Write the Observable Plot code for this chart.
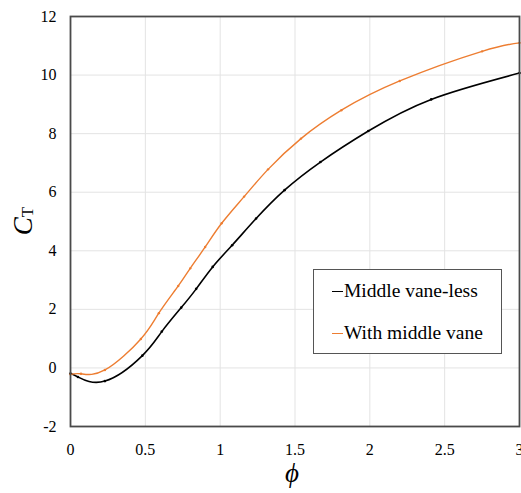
<!DOCTYPE html>
<html>
<head>
<meta charset="utf-8">
<script src="https://cdn.jsdelivr.net/npm/d3@7"></script>
<script src="https://cdn.jsdelivr.net/npm/@observablehq/plot@0.6"></script>
<style>
  html, body { margin: 0; padding: 0; background: #fff; }
  #wrap { position: relative; width: 521px; height: 493px; font-family: "Liberation Serif", "Times New Roman", serif; }
  #chart svg, #chart svg text { font-family: "Liberation Serif", "Times New Roman", serif !important; }
  #legend { position: absolute; left: 313px; top: 269px; width: 189px; height: 85px; border: 1px solid #555; background: #fff; box-sizing: border-box; font-size: 19.5px; color: #000; }
  .li { position: absolute; left: 18px; white-space: nowrap; line-height: 1; }
  .li span.sw { display: inline-block; width: 11px; height: 0; border-top: 1.5px solid; vertical-align: middle; margin-right: 1px; position: relative; top: -1px; }
</style>
</head>
<body>
<div id="wrap">
  <div id="chart"></div>
  <div id="legend">
    <div class="li" style="top:11px"><span class="sw" style="border-color:#000"></span>Middle vane-less</div>
    <div class="li" style="top:53px"><span class="sw" style="border-color:#ED7D31"></span>With middle vane</div>
  </div>
</div>
<script>
const blackX = [0, 0.05, 0.23, 0.48, 0.61, 0.74, 0.84, 0.95, 1.08, 1.24, 1.43, 1.67, 1.99, 2.41, 3.0];
const blackY = [-0.19, -0.31, -0.45, 0.42, 1.24, 2.06, 2.7, 3.45, 4.19, 5.1, 6.07, 7.03, 8.09, 9.17, 10.07];
const orangeX = [0, 0.07, 0.23, 0.47, 0.59, 0.72, 0.80, 0.90, 1.01, 1.16, 1.32, 1.54, 1.81, 2.2, 2.75, 3.0];
const orangeY = [-0.22, -0.2, -0.07, 0.99, 1.87, 2.8, 3.4, 4.13, 4.94, 5.85, 6.78, 7.83, 8.8, 9.8, 10.81, 11.1];
const xTicks = [0, 0.5, 1, 1.5, 2, 2.5, 3];
const yTicks = [-2, 0, 2, 4, 6, 8, 10, 12];
const seriesNames = ["Middle vane-less", "With middle vane"];
const seriesColors = ["#000000", "#ED7D31"];

const black = blackX.map((x, i) => ({x, y: blackY[i]}));
const orange = orangeX.map((x, i) => ({x, y: orangeY[i]}));
const fmt = d => String(d);
const SERIF = "'Liberation Serif', 'Times New Roman', serif";

const chart = Plot.plot({
  width: 521,
  height: 493,
  marginLeft: 70,
  marginRight: 2,
  marginTop: 16,
  marginBottom: 67,
  style: {fontFamily: SERIF, fontSize: "16px", color: "#000", background: "#fff"},
  x: {domain: [0, 3], label: null},
  y: {domain: [-2, 12], label: null},
  marks: [
    Plot.gridX(xTicks, {stroke: "#e3e3e3", strokeOpacity: 1}),
    Plot.gridY(yTicks, {stroke: "#e3e3e3", strokeOpacity: 1}),
    Plot.axisX({ticks: xTicks, tickSize: 0, tickPadding: 17, fontSize: 16, tickFormat: fmt, label: null}),
    Plot.axisY({ticks: yTicks, tickSize: 0, tickPadding: 14, fontSize: 16, tickFormat: fmt, label: null}),
    Plot.line(black, {x: "x", y: "y", stroke: seriesColors[0], strokeWidth: 1.6, curve: "natural"}),
    Plot.line(orange, {x: "x", y: "y", stroke: seriesColors[1], strokeWidth: 1.4, curve: "natural"}),
    Plot.dot(black, {x: "x", y: "y", r: 1.3, fill: seriesColors[0], stroke: null}),
    Plot.dot(orange, {x: "x", y: "y", r: 1.2, fill: seriesColors[1], stroke: null}),
    Plot.frame({stroke: "#4a4a4a", strokeWidth: 1.8})
  ]
});
document.getElementById("chart").appendChild(chart);

const svg = d3.select(chart);
svg.attr("font-family", SERIF);
svg.selectAll("text").attr("font-family", SERIF).style("font-family", SERIF);

const yl = svg.append("text")
  .attr("transform", "translate(32,221) rotate(-90)")
  .attr("text-anchor", "middle")
  .attr("font-family", SERIF)
  .attr("fill", "#000");
yl.append("tspan").text("C").attr("font-style", "italic").attr("font-size", "27px");
yl.append("tspan").text("T").attr("font-size", "17px").attr("dy", "1");
svg.append("text")
  .attr("x", 292).attr("y", 482)
  .attr("text-anchor", "middle")
  .attr("font-family", SERIF)
  .attr("font-style", "italic")
  .attr("font-size", "27px")
  .attr("fill", "#000")
  .text("ϕ");
</script>
</body>
</html>
